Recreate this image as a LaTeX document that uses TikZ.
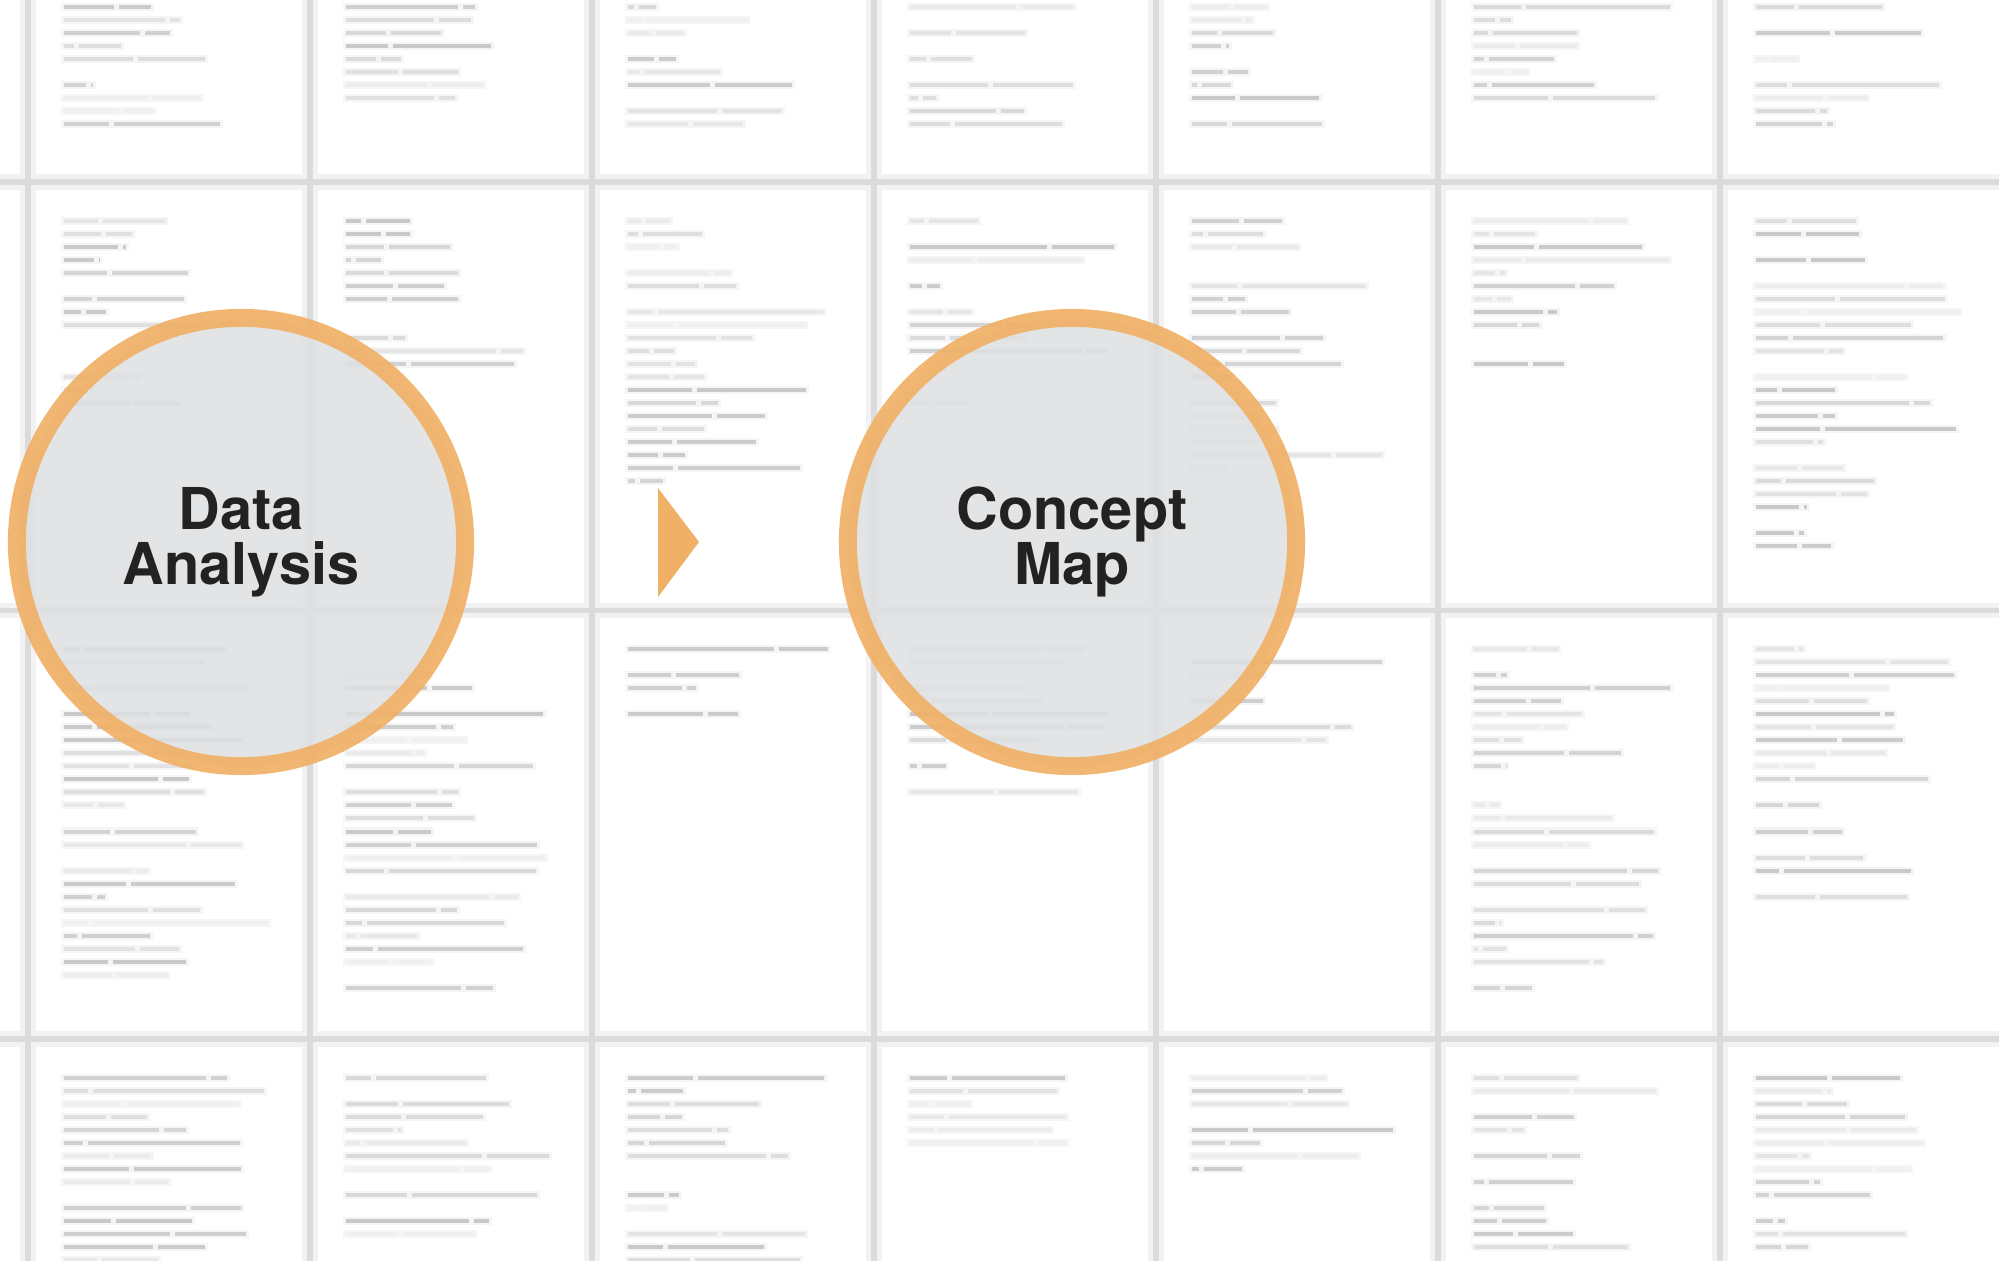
\documentclass[tikz,border=0pt]{standalone}
\usepackage{fontspec}
\setmainfont{TeX Gyre Heros}
\usetikzlibrary{positioning}
\definecolor{ringorange}{RGB}{240,176,102}
\definecolor{discgray}{RGB}{222,224,226}
\definecolor{labelink}{RGB}{34,34,34}
\begin{document}
\begin{tikzpicture}[x=0.01cm,y=-0.01cm,
    pageline/.style={line width=1.6pt,draw=black!14},
    pagehalo/.style={line width=4.5pt,draw=black!5},
    stage/.style={circle,minimum size=4.48cm,line width=5.1pt,draw=ringorange,
      draw opacity=0.92,fill=discgray,fill opacity=0.86,text opacity=1,
      text=labelink,align=center,font=\fontsize{16.4}{15.6}\selectfont\bfseries}]
  \useasboundingbox (0,0) rectangle (1999,1261);
  \clip (0,0) rectangle (1999,1261);
  \fill[white] (0,0) rectangle (1999,1261);
  \pgfmathsetseed{17}
  % blurred page texts
  \foreach \col in {0,...,6}{
    \foreach \row in {-1,...,2}{
      \pgfmathsetmacro{\px}{28+282*\col+36}
      \pgfmathsetmacro{\py}{\row<0 ? -8 : 182+428.5*\row+24}
      \pgfmathrandominteger{\nlines}{6}{30}
      \pgfmathtruncatemacro{\nlines}{\row<0 ? min(\nlines,10) : \nlines}
      \foreach \j in {1,...,\nlines}{
        \pgfmathrandominteger{\barlen}{25}{205}
        \pgfmathrandominteger{\barsplit}{10}{90}
        \pgfmathsetmacro{\barcut}{\barlen/100*\barsplit}
        \pgfmathsetmacro{\bary}{\py+13*\j}
        \pgfmathrandominteger{\barshade}{6}{21}
        \pgfmathrandominteger{\bargap}{0}{9}
        \ifnum\bargap>1
          \fill[black!4] (\px-3,\bary-2) rectangle ++(\barlen+6,8);
          \fill[black!\barshade] (\px,\bary) rectangle ++(\barcut,4);
          \fill[black!\barshade] (\px+\barcut+5,\bary) rectangle (\px+\barlen,\bary+4);
        \fi
      }
    }
  }
  % page borders
  \foreach \col in {0,...,6}
    \draw[pagehalo] (28+282*\col,0) -- (28+282*\col,1261);
  \foreach \row in {0,1,2}
    \draw[pagehalo] (0,182+428.5*\row) -- (1999,182+428.5*\row);
  \foreach \col in {0,...,6}
    \draw[pageline] (28+282*\col,0) -- (28+282*\col,1261);
  \foreach \row in {0,1,2}
    \draw[pageline] (0,182+428.5*\row) -- (1999,182+428.5*\row);
  % stages
  \node[stage] (analysis) at (241,542) {Data\\Analysis};
  \node[stage] (conceptmap) at (1072,542) {Concept\\Map};
  \coordinate (tip) at (699,542);
  \fill[ringorange] (tip) -- ++(-41,-54) -- ++(0,109) -- cycle;
\end{tikzpicture}
\end{document}
